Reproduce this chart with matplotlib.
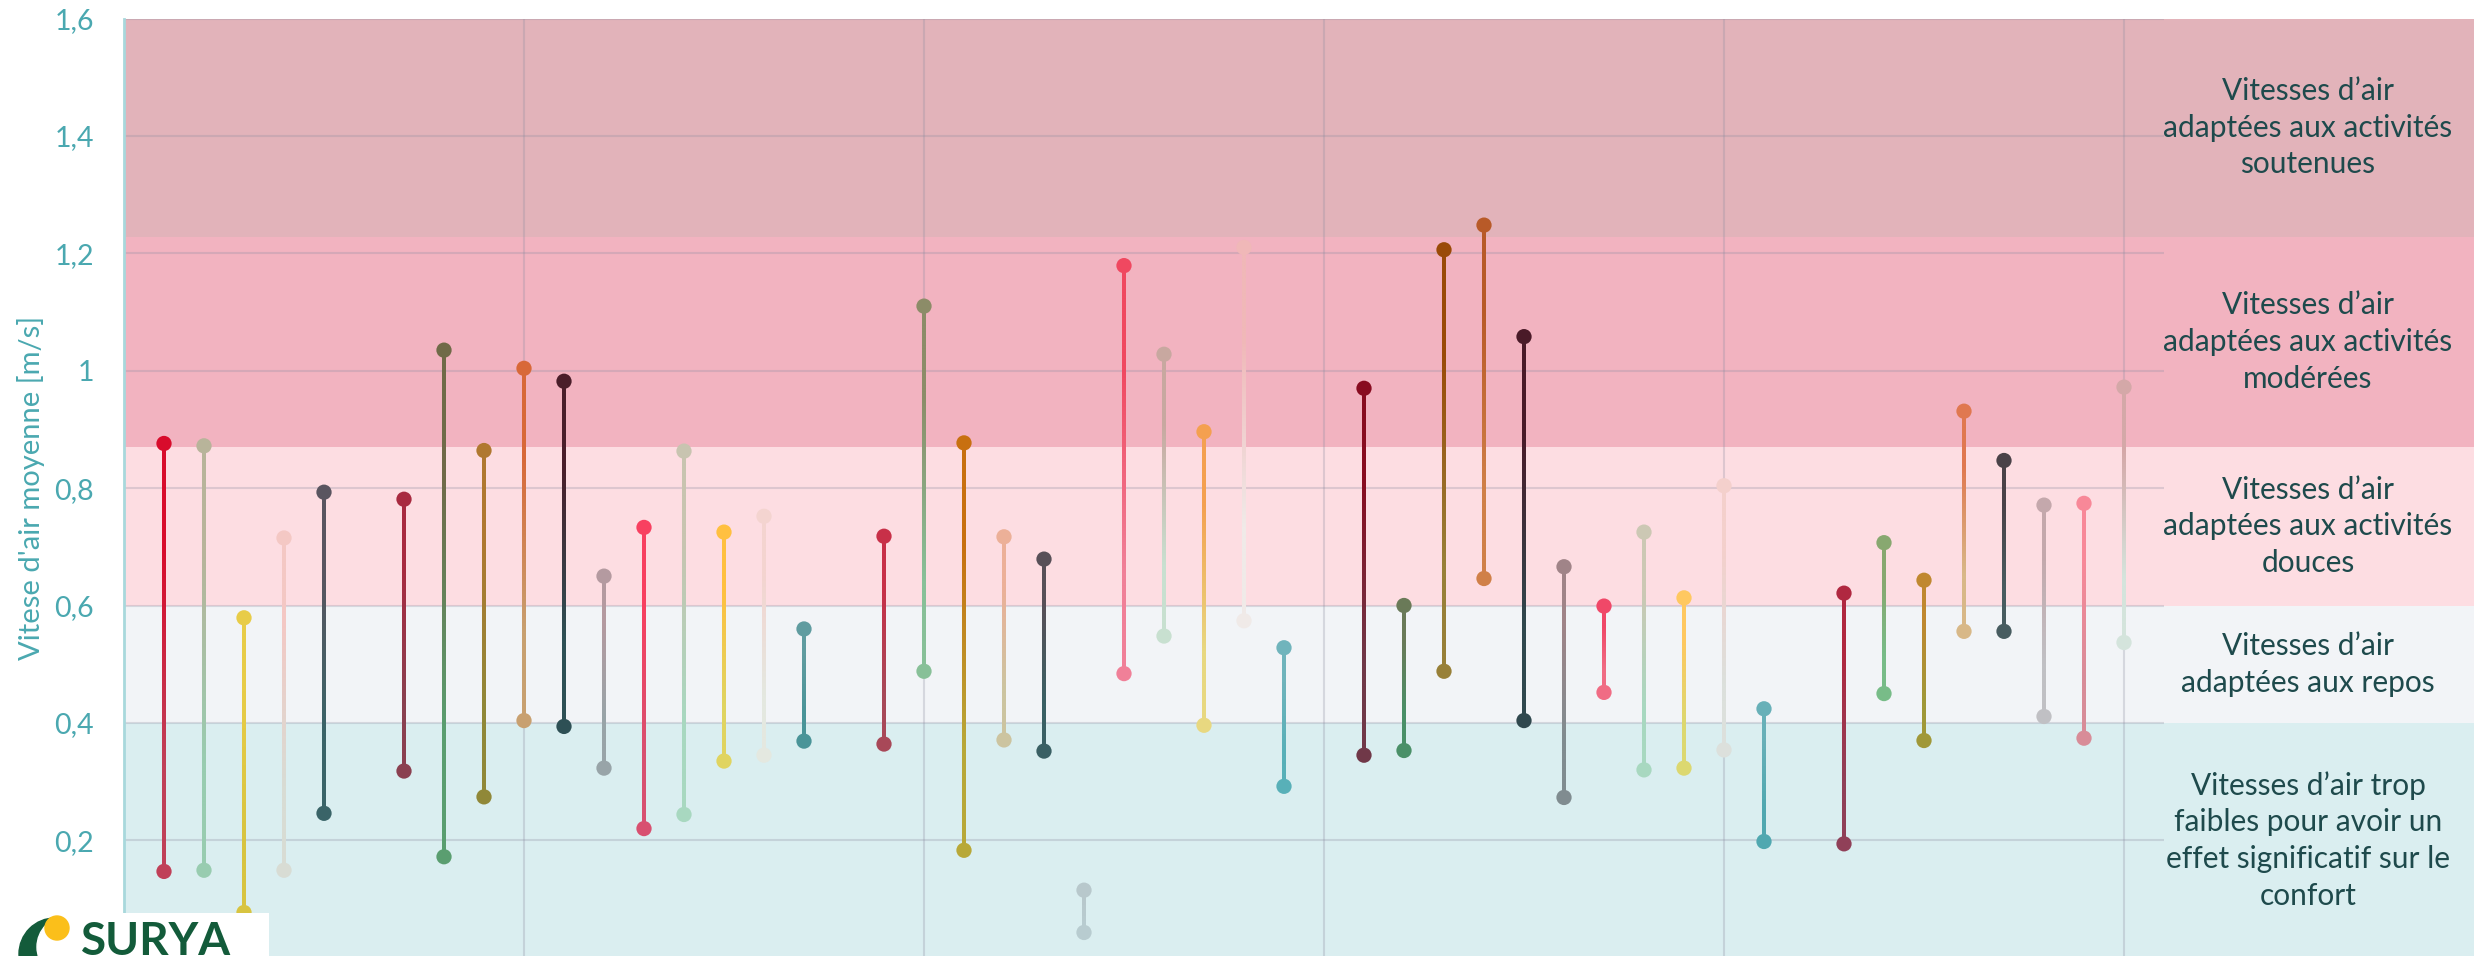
import numpy as np
import matplotlib.pyplot as plt
from matplotlib.patches import Circle, Rectangle

plt.rcParams['font.family'] = ['Lato', 'DejaVu Sans']

# --- data ---
positions = [1, 2, 3, 4, 5,
             7, 8, 9, 10, 11, 12, 13, 14, 15, 16, 17,
             19, 20, 21, 22, 23, 24, 25, 26, 27, 28, 29,
             31, 32, 33, 34, 35, 36, 37, 38, 39, 40, 41,
             43, 44, 45, 46, 47, 48, 49, 50]
high_vals = [0.876, 0.872, 0.579, 0.715, 0.793,
             0.781, 1.035, 0.864, 1.004, 0.982, 0.650, 0.733, 0.863, 0.725, 0.752, 0.560,
             0.718, 1.110, 0.877, 0.717, 0.679, 0.115, 1.179, 1.028, 0.896, 1.210, 0.528,
             0.970, 0.600, 1.206, 1.248, 1.058, 0.666, 0.599, 0.725, 0.613, 0.804, 0.424,
             0.621, 0.707, 0.643, 0.931, 0.847, 0.771, 0.774, 0.972]
low_vals = [0.147, 0.149, 0.077, 0.149, 0.246,
            0.318, 0.172, 0.274, 0.404, 0.394, 0.323, 0.220, 0.244, 0.335, 0.345, 0.369,
            0.364, 0.488, 0.183, 0.371, 0.352, 0.043, 0.484, 0.548, 0.396, 0.574, 0.292,
            0.345, 0.353, 0.488, 0.646, 0.404, 0.273, 0.452, 0.320, 0.323, 0.354, 0.198,
            0.194, 0.450, 0.370, 0.556, 0.556, 0.411, 0.374, 0.537]
top_colors = ['#D80C2C', '#B8B49A', '#E8CC48', '#F4C8C4', '#5A5560',
              '#A82A40', '#706A48', '#B07830', '#D86838', '#4A1E2A', '#B49AA0',
              '#F84060', '#C8C4B0', '#FFC040', '#F4D4D0', '#609CA0',
              '#C83048', '#8C8C68', '#C87010', '#ECB098', '#585058', '#B8C8CC',
              '#F04860', '#C8A8A0', '#F4A050', '#F0B8B8', '#70B4BC',
              '#880C20', '#6A7A58', '#9A4A08', '#B85A28', '#4A1A28', '#A08488',
              '#F04868', '#CCC8B4', '#FFC860', '#F4D0CC', '#68B0B8',
              '#B02840', '#88A870', '#C08830', '#E07850', '#4A4248', '#C4A8AC',
              '#F88898', '#D4A8A8']
bottom_colors = ['#C04058', '#98CCB0', '#D8C440', '#D8DCD4', '#3A6468',
                 '#8A4050', '#5A9E70', '#908838', '#C8A070', '#2E5055', '#98A4A8',
                 '#D85070', '#A8D8C0', '#E0D460', '#E4E8E0', '#4A9498',
                 '#A84858', '#88C098', '#B8A838', '#CCC4A0', '#3A6064', '#B8CCD0',
                 '#F08098', '#C8E0D0', '#E8D880', '#F0EAE8', '#58B0B8',
                 '#703848', '#4A9068', '#988038', '#D08048', '#30484E', '#808C90',
                 '#F06C84', '#A8D8C0', '#DCD870', '#DCE0DC', '#50A8B0',
                 '#904058', '#78BC88', '#A09838', '#D8B888', '#485C60', '#C0C0C4',
                 '#D88C98', '#D4E4DC']

band_lo = [1.228, 0.87, 0.6, 0.4, 0.0]
band_hi = [1.6, 1.228, 0.87, 0.6, 0.4]
band_colors = ['#E2B3BA', '#F2B3C0', '#FDDDE2', '#F2F4F7', '#DAEEF0']
band_labels = [
    "Vitesses d’air\nadaptées aux activités\nsoutenues",
    "Vitesses d’air\nadaptées aux activités\nmodérées",
    "Vitesses d’air\nadaptées aux activités\ndouces",
    "Vitesses d’air\nadaptées aux repos",
    "Vitesses d’air trop\nfaibles pour avoir un\neffet significatif sur le\nconfort",
]

ytick_vals = [0.2, 0.4, 0.6, 0.8, 1.0, 1.2, 1.4, 1.6]
ytick_labels = ['0,2', '0,4', '0,6', '0,8', '1', '1,2', '1,4', '1,6']

# --- layout (pixels) ---
W, H = 2474, 956
x0, y_zero, y_top = 124, 957.7, 18.5
slot = 40.0

fig = plt.figure(figsize=(W / 100, H / 100), dpi=100)
ax = fig.add_axes([x0 / W, (H - y_zero) / H, (W - x0) / W, (y_zero - y_top) / H])

# bands
for lo, hi, c in zip(band_lo, band_hi, band_colors):
    ax.axhspan(lo, hi, color=c, lw=0, zorder=0)

# grid
grid_kw = dict(colors='#8C8CA0', alpha=0.28, lw=1.5, zorder=1)
ax.hlines(ytick_vals, 0, 51, **grid_kw)
ax.vlines([10, 20, 30, 40, 50], 0, 1.6, **grid_kw)

# stems with gradient from top colour to bottom colour
stem_w = 4 / slot
for x, hi, lo, ct, cb in zip(positions, high_vals, low_vals, top_colors, bottom_colors):
    grad = np.array([[plt.matplotlib.colors.to_rgb(ct)],
                     [plt.matplotlib.colors.to_rgb(cb)]])
    ax.imshow(grad, extent=(x - stem_w / 2, x + stem_w / 2, lo, hi),
              aspect='auto', interpolation='bilinear', origin='upper', zorder=2)

ax.scatter(positions, high_vals, s=121, c=top_colors, edgecolors='none', zorder=4)
ax.scatter(positions, low_vals, s=121, c=bottom_colors, edgecolors='none', zorder=4)

# band labels
label_x = (2308 - x0) / slot
for lo, hi, txt in zip(band_lo, band_hi, band_labels):
    ax.text(label_x, (lo + hi) / 2, txt, ha='center', va='center',
            fontsize=21.5, color='#1E4A4C', linespacing=1.38, zorder=5)

ax.set_xlim(0, (W - x0) / slot)
ax.set_ylim(0, 1.6)

for s in ['top', 'right', 'bottom']:
    ax.spines[s].set_visible(False)
ax.spines['left'].set_color('#A8D8DC')
ax.spines['left'].set_linewidth(2)
ax.spines['left'].set_zorder(3)

ax.set_xticks([])
ax.set_yticks(ytick_vals)
ax.set_yticklabels(ytick_labels)
ax.tick_params(axis='y', length=0, pad=21.6, labelsize=20.5, labelcolor='#4AA8B0')
ax.set_ylabel("Vitese d'air moyenne [m/s]", fontsize=21, color='#4AA8B0')
ax.yaxis.set_label_coords(-0.0336, 0.5)

# --- logo ---
lax = fig.add_axes([0, 0, 269 / W, 43 / H])
lax.set_xlim(0, 269)
lax.set_ylim(956, 913)
lax.set_axis_off()
lax.add_patch(Rectangle((0, 913), 269, 43, color='white'))
lax.add_patch(Circle((55, 954), 36, color='#135B3A'))
lax.add_patch(Circle((68, 947), 31, color='white'))
lax.add_patch(Circle((57, 928), 12, color='#FBBF1A'))
lax.text(81, 955, 'SURYA', fontsize=33, fontweight='bold', color='#135B3A',
         ha='left', va='baseline')

fig.savefig('out.png', dpi=100)
